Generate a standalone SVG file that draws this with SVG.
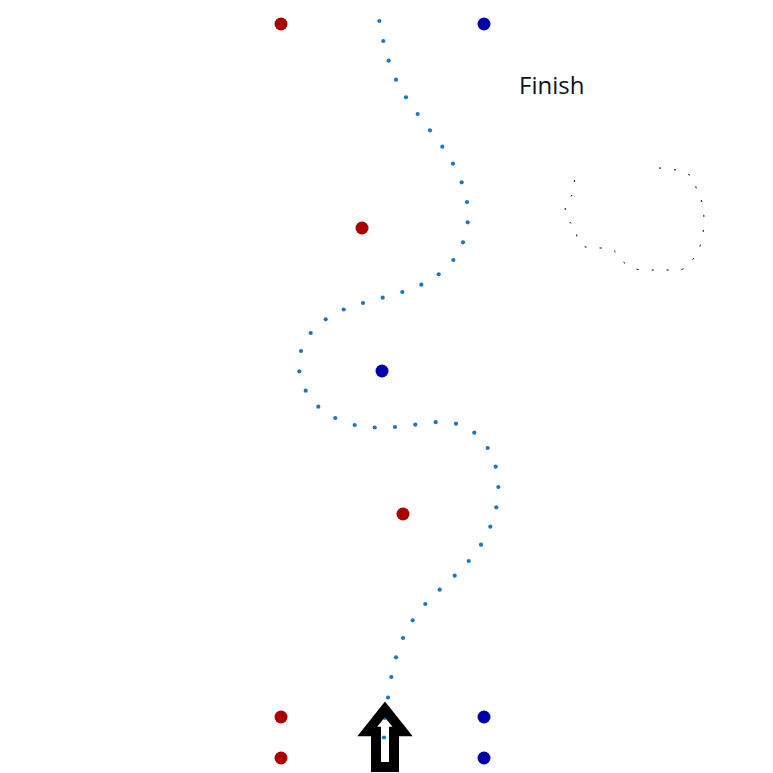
<svg xmlns="http://www.w3.org/2000/svg" width="773" height="773" viewBox="0 0 773 773">
<style>
.red{fill:#aa0000}
.blue{fill:#0000aa}
.trk circle{fill:#1f77b4}
.lbl{font-family:"Open Sans","DejaVu Sans",sans-serif;font-size:24px;fill:#111}
</style>
<rect width="773" height="773" fill="#fff"/>
<g id="ring">
<path d="M659,168 C680,169 692,174 694,180 C696,190 700,196 703,205 C705,220 704,240 697,253 C692,262 685,270 679,270 L640,270 C630,268 622,262 619,257 C615,250 613,248 600,248 L585,247 C578,242 576,236 576,229 C573,225 566,220 565,212 C565,203 570,199 572,195 C573,186 575,176 578,170" fill="none" stroke="#000" stroke-width="1" stroke-dasharray="2 13"/>
</g>
<g id="finish"><text class="lbl" x="519" y="94">Finish</text></g>
<g id="connectors" class="trk">
<circle cx="379.3" cy="21" r="2.1"/><circle cx="383.3" cy="41" r="2.1"/><circle cx="388.7" cy="60.7" r="2.1"/><circle cx="396" cy="79.7" r="2.1"/><circle cx="406" cy="97.3" r="2.1"/><circle cx="417.7" cy="114" r="2.1"/><circle cx="430" cy="130.3" r="2.1"/><circle cx="442.3" cy="146.7" r="2.1"/><circle cx="453" cy="163.7" r="2.1"/><circle cx="461.7" cy="182.3" r="2.1"/><circle cx="467" cy="202" r="2.1"/><circle cx="467.7" cy="222.3" r="2.1"/><circle cx="463" cy="242.3" r="2.1"/><circle cx="453.3" cy="260" r="2.1"/><circle cx="438.7" cy="274.3" r="2.1"/><circle cx="421.3" cy="284.7" r="2.1"/><circle cx="402.3" cy="292" r="2.1"/><circle cx="382.7" cy="297.7" r="2.1"/><circle cx="363" cy="303" r="2.1"/><circle cx="343.7" cy="309.5" r="2.1"/><circle cx="325.7" cy="319.3" r="2.1"/><circle cx="310.7" cy="333" r="2.1"/><circle cx="301" cy="351" r="2.1"/><circle cx="299.3" cy="371.3" r="2.1"/><circle cx="305.7" cy="390.7" r="2.1"/><circle cx="318.3" cy="406.7" r="2.1"/><circle cx="335.3" cy="418" r="2.1"/><circle cx="354.7" cy="425" r="2.1"/><circle cx="374.7" cy="427.5" r="2.1"/><circle cx="395" cy="427" r="2.1"/><circle cx="415.3" cy="424.7" r="2.1"/><circle cx="435.7" cy="422.2" r="2.1"/><circle cx="456" cy="423.7" r="2.1"/><circle cx="474.3" cy="432.7" r="2.1"/><circle cx="487.7" cy="448" r="2.1"/><circle cx="495.7" cy="466.7" r="2.1"/><circle cx="498.3" cy="487" r="2.1"/><circle cx="496.3" cy="507.3" r="2.1"/><circle cx="490.3" cy="526.7" r="2.1"/><circle cx="481" cy="544.7" r="2.1"/><circle cx="468.7" cy="561" r="2.1"/><circle cx="454.7" cy="575.7" r="2.1"/><circle cx="439.7" cy="589.7" r="2.1"/><circle cx="425.3" cy="604" r="2.1"/><circle cx="412.7" cy="620.3" r="2.1"/><circle cx="403" cy="638" r="2.1"/><circle cx="396" cy="657.3" r="2.1"/><circle cx="391.3" cy="677" r="2.1"/><circle cx="388" cy="697.5" r="2.1"/><circle cx="384.7" cy="718" r="2.1"/><circle cx="384" cy="737.5" r="2.1"/>
</g>
<g id="red-cones">
<circle class="red" cx="281" cy="24" r="6.5"/>
<circle class="red" cx="362" cy="228" r="6.5"/>
<circle class="red" cx="403" cy="514" r="6.5"/>
<circle class="red" cx="281" cy="717" r="6.5"/>
<circle class="red" cx="281" cy="758" r="6.5"/>
</g>
<g id="blue-cones">
<circle class="blue" cx="484" cy="24" r="6.5"/>
<circle class="blue" cx="382" cy="371" r="6.5"/>
<circle class="blue" cx="484" cy="717" r="6.5"/>
<circle class="blue" cx="484" cy="758" r="6.5"/>
</g>
<g id="start-arrow">
<path fill="#000" fill-rule="evenodd" d="M385,701.5 L412.7,736.3 L399,736.3 L399,772 L371,772 L371,736.3 L357.3,736.3 Z M384.8,717.3 L392.5,726.7 L389,726.7 L389,762 L381,762 L381,726.7 L377.2,726.7 Z"/>
</g>
</svg>
